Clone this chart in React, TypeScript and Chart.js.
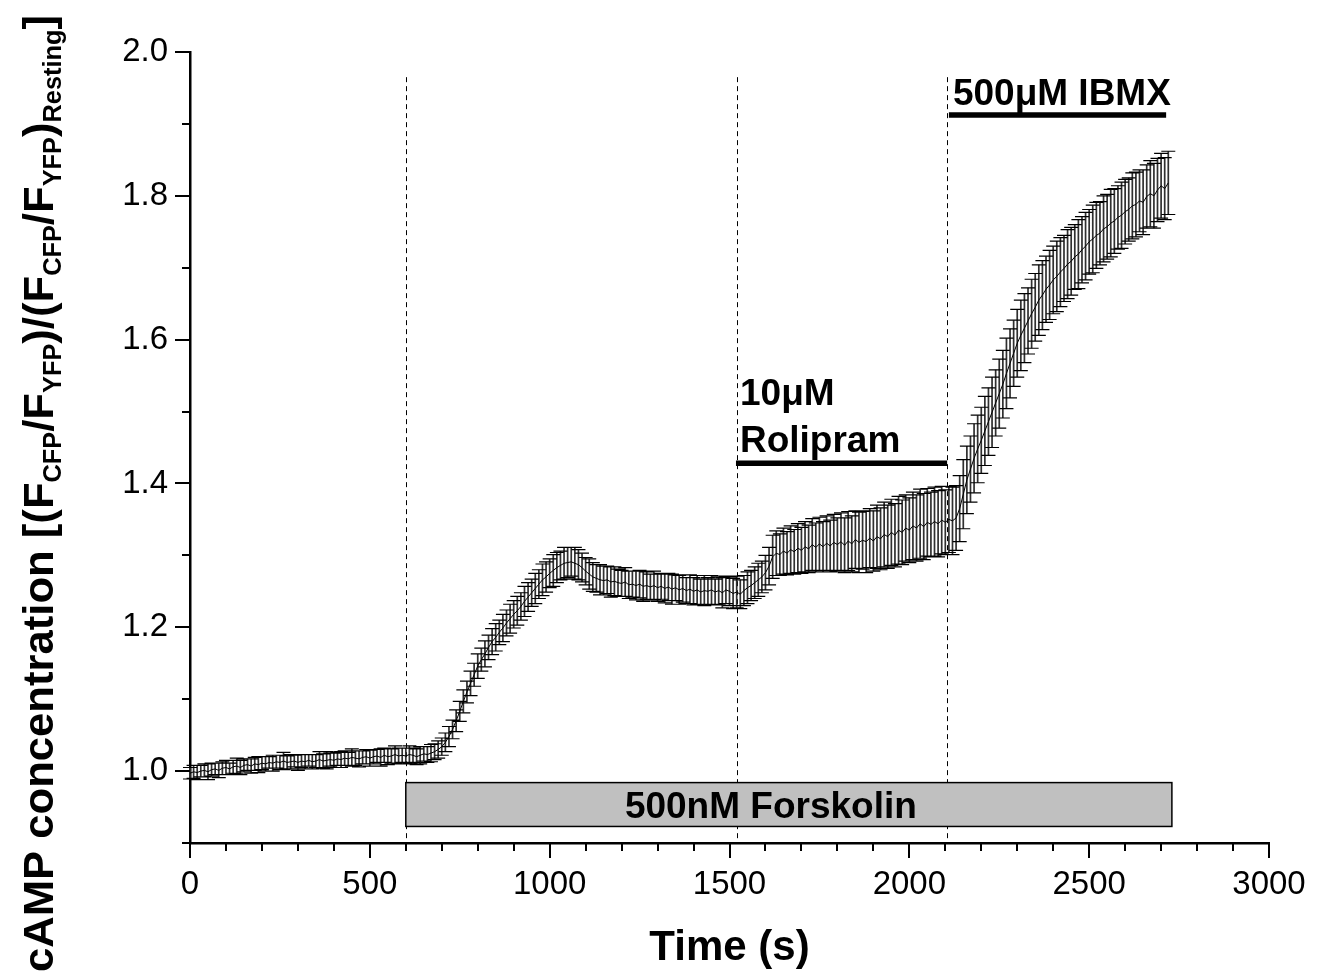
import React, { useEffect, useRef } from "react";
import { Chart, registerables } from "chart.js";

Chart.register(...registerables);

// ---------------- data ----------------
const TIME_STEP_S = 10; // sampling interval of the recording (s), first sample at t = 0

// mean normalised CFP/YFP ratio, one value every 10 s from 0 to 2720 s
const MEAN_RATIO = [
  0.997, 0.999, 0.998, 1.000, 1.001, 0.999, 1.002, 1.003, 1.001, 1.004,
  1.005, 1.003, 1.006, 1.007, 1.005, 1.008, 1.009, 1.007, 1.010, 1.009,
  1.011, 1.010, 1.012, 1.011, 1.013, 1.012, 1.014, 1.012, 1.013, 1.014,
  1.012, 1.014, 1.013, 1.015, 1.013, 1.014, 1.016, 1.014, 1.015, 1.016,
  1.015, 1.017, 1.016, 1.018, 1.017, 1.019, 1.018, 1.017, 1.019, 1.020,
  1.018, 1.020, 1.021, 1.019, 1.022, 1.020, 1.021, 1.023, 1.021, 1.022,
  1.021, 1.023, 1.022, 1.020, 1.022, 1.024, 1.023, 1.025, 1.027, 1.030,
  1.034, 1.040, 1.048, 1.058, 1.070, 1.083, 1.097, 1.110, 1.122, 1.134,
  1.146, 1.155, 1.163, 1.172, 1.180, 1.186, 1.193, 1.199, 1.206, 1.212,
  1.218, 1.223, 1.229, 1.236, 1.242, 1.248, 1.254, 1.260, 1.266, 1.270,
  1.275, 1.279, 1.283, 1.286, 1.289, 1.290, 1.291, 1.289, 1.287, 1.283,
  1.278, 1.274, 1.270, 1.268, 1.266, 1.265, 1.266, 1.263, 1.264, 1.262,
  1.261, 1.263, 1.259, 1.260, 1.258, 1.260, 1.257, 1.258, 1.256, 1.258,
  1.255, 1.257, 1.254, 1.256, 1.253, 1.255, 1.252, 1.254, 1.251, 1.253,
  1.250, 1.252, 1.249, 1.251, 1.250, 1.252, 1.249, 1.251, 1.248, 1.252,
  1.250, 1.247, 1.249, 1.246, 1.251, 1.255, 1.258, 1.262, 1.266, 1.270,
  1.276, 1.285, 1.298, 1.303, 1.301, 1.306, 1.303, 1.308, 1.305, 1.310,
  1.307, 1.312, 1.309, 1.315, 1.311, 1.316, 1.312, 1.317, 1.313, 1.318,
  1.315, 1.319, 1.314, 1.320, 1.316, 1.322, 1.318, 1.321, 1.319, 1.324,
  1.320, 1.326, 1.323, 1.329, 1.326, 1.332, 1.328, 1.335, 1.332, 1.338,
  1.335, 1.341, 1.338, 1.344, 1.340, 1.346, 1.343, 1.347, 1.344, 1.349,
  1.346, 1.350, 1.348, 1.352, 1.365, 1.385, 1.405, 1.420, 1.435, 1.448,
  1.460, 1.473, 1.486, 1.499, 1.512, 1.525, 1.538, 1.553, 1.567, 1.581,
  1.595, 1.606, 1.616, 1.626, 1.636, 1.645, 1.655, 1.662, 1.670, 1.676,
  1.683, 1.688, 1.694, 1.699, 1.705, 1.709, 1.715, 1.719, 1.725, 1.730,
  1.736, 1.740, 1.745, 1.748, 1.754, 1.757, 1.762, 1.765, 1.770, 1.773,
  1.778, 1.781, 1.786, 1.788, 1.793, 1.791, 1.799, 1.803, 1.800, 1.808,
  1.814, 1.810, 1.818,
];

// error (±) for each mean value
const ERR_RATIO = [
  0.008, 0.009, 0.010, 0.008, 0.009, 0.011, 0.009, 0.008, 0.010, 0.009,
  0.010, 0.008, 0.009, 0.011, 0.010, 0.009, 0.008, 0.010, 0.009, 0.011,
  0.009, 0.010, 0.008, 0.011, 0.009, 0.010, 0.012, 0.009, 0.010, 0.008,
  0.011, 0.009, 0.010, 0.008, 0.010, 0.009, 0.011, 0.010, 0.012, 0.009,
  0.010, 0.009, 0.011, 0.010, 0.009, 0.012, 0.010, 0.011, 0.009, 0.010,
  0.011, 0.010, 0.009, 0.012, 0.010, 0.011, 0.010, 0.012, 0.011, 0.010,
  0.011, 0.012, 0.010, 0.011, 0.012, 0.010, 0.011, 0.012, 0.011, 0.012,
  0.012, 0.013, 0.014, 0.013, 0.015, 0.014, 0.016, 0.015, 0.017, 0.016,
  0.017, 0.016, 0.018, 0.017, 0.018, 0.019, 0.017, 0.019, 0.018, 0.020,
  0.019, 0.020, 0.019, 0.021, 0.020, 0.019, 0.021, 0.020, 0.022, 0.021,
  0.020, 0.022, 0.021, 0.020, 0.022, 0.021, 0.020, 0.022, 0.021, 0.020,
  0.019, 0.021, 0.020, 0.019, 0.021, 0.020, 0.019, 0.021, 0.020, 0.019,
  0.018, 0.020, 0.019, 0.018, 0.020, 0.019, 0.021, 0.019, 0.018, 0.020,
  0.019, 0.018, 0.020, 0.019, 0.021, 0.018, 0.020, 0.019, 0.018, 0.020,
  0.019, 0.020, 0.018, 0.021, 0.019, 0.020, 0.018, 0.019, 0.021, 0.019,
  0.020, 0.021, 0.022, 0.020, 0.021, 0.022, 0.021, 0.022, 0.023, 0.022,
  0.024, 0.026, 0.030, 0.031, 0.029, 0.032, 0.030, 0.033, 0.031, 0.034,
  0.032, 0.035, 0.033, 0.036, 0.034, 0.037, 0.035, 0.038, 0.036, 0.039,
  0.037, 0.040, 0.038, 0.041, 0.039, 0.040, 0.042, 0.040, 0.043, 0.041,
  0.042, 0.044, 0.043, 0.045, 0.044, 0.046, 0.044, 0.047, 0.045, 0.046,
  0.045, 0.047, 0.046, 0.048, 0.046, 0.047, 0.045, 0.048, 0.046, 0.047,
  0.045, 0.046, 0.047, 0.045, 0.046, 0.048, 0.047, 0.046, 0.048, 0.047,
  0.046, 0.048, 0.047, 0.049, 0.046, 0.048, 0.047, 0.049, 0.048, 0.046,
  0.047, 0.049, 0.048, 0.046, 0.048, 0.047, 0.049, 0.048, 0.046, 0.048,
  0.047, 0.049, 0.048, 0.046, 0.048, 0.047, 0.045, 0.048, 0.046, 0.047,
  0.045, 0.047, 0.046, 0.044, 0.046, 0.045, 0.047, 0.045, 0.044, 0.046,
  0.045, 0.044, 0.046, 0.045, 0.043, 0.045, 0.044, 0.046, 0.045, 0.044,
  0.045, 0.043, 0.044,
];

// axes
const X_MIN = 0;
const X_MAX = 3000;
const X_MINOR_STEP = 100;
const X_LABEL_STEP = 500;
const Y_MIN = 0.9;
const Y_MAX = 2.0;
const Y_MINOR_STEP = 0.1;
const Y_LABEL_STEP = 0.2;

// drug application times (s) -> dashed markers
const DRUG_ONSETS_S = [600, 1520, 2105];
const DASH_TOP_VALUE = 1.965;

// annotation texts
const X_TITLE = "Time (s)";
const Y_TITLE_SEGMENTS: [string, boolean][] = [
  ["cAMP concentration [(F", false],
  ["CFP", true],
  ["/F", false],
  ["YFP", true],
  [")/(F", false],
  ["CFP", true],
  ["/F", false],
  ["YFP", true],
  [")", false],
  ["Resting", true],
  ["]", false],
];
const FORSKOLIN_LABEL = "500nM Forskolin";
const FORSKOLIN_SPAN = { start: 600, end: 2730, low: 0.923, high: 0.984, labelAt: 1615 };
const ROLIPRAM_LABEL = ["10\u03bcM", "Rolipram"];
const ROLIPRAM_SPAN = { start: 1518, end: 2105, level: 1.428 };
const IBMX_LABEL = "500\u03bcM IBMX";
const IBMX_SPAN = { start: 2110, end: 2714, level: 1.9125 };

// ---------------- styles ----------------
const FAMILY = '"Liberation Sans", Arial, Helvetica, sans-serif';
const W = 1319;
const H = 977;

const annotationPlugin = {
  id: "annotations",
  beforeDatasetsDraw(chart: any) {
    const { ctx, scales } = chart;
    const x = scales.x;
    const y = scales.y;
    ctx.save();
    // dashed onset markers
    ctx.strokeStyle = "#000";
    ctx.lineWidth = 1;
    ctx.setLineDash([5, 4]);
    for (const t of DRUG_ONSETS_S) {
      const px = Math.round(x.getPixelForValue(t)) + 0.5;
      ctx.beginPath();
      ctx.moveTo(px, y.getPixelForValue(DASH_TOP_VALUE));
      ctx.lineTo(px, y.getPixelForValue(Y_MIN));
      ctx.stroke();
    }
    ctx.setLineDash([]);

    // forskolin box
    const bx0 = x.getPixelForValue(FORSKOLIN_SPAN.start);
    const bx1 = x.getPixelForValue(FORSKOLIN_SPAN.end);
    const by0 = y.getPixelForValue(FORSKOLIN_SPAN.high);
    const by1 = y.getPixelForValue(FORSKOLIN_SPAN.low);
    ctx.fillStyle = "#c0c0c0";
    ctx.fillRect(bx0, by0, bx1 - bx0, by1 - by0);
    ctx.strokeStyle = "#000";
    ctx.lineWidth = 1.5;
    ctx.strokeRect(bx0, by0, bx1 - bx0, by1 - by0);
    ctx.fillStyle = "#000";
    ctx.font = `bold 37px ${FAMILY}`;
    ctx.textAlign = "center";
    ctx.textBaseline = "alphabetic";
    ctx.fillText(FORSKOLIN_LABEL, x.getPixelForValue(FORSKOLIN_SPAN.labelAt), (by0 + by1) / 2 + 13);

    // rolipram bar + label
    ctx.lineWidth = 5.5;
    ctx.lineCap = "butt";
    const ry = y.getPixelForValue(ROLIPRAM_SPAN.level);
    const rx0 = x.getPixelForValue(ROLIPRAM_SPAN.start);
    ctx.beginPath();
    ctx.moveTo(rx0, ry);
    ctx.lineTo(x.getPixelForValue(ROLIPRAM_SPAN.end), ry);
    ctx.stroke();
    ctx.textAlign = "left";
    ctx.fillText(ROLIPRAM_LABEL[0], rx0 + 4, ry - 58);
    ctx.fillText(ROLIPRAM_LABEL[1], rx0 + 4, ry - 11);

    // IBMX bar + label
    const iy = y.getPixelForValue(IBMX_SPAN.level);
    const ix0 = x.getPixelForValue(IBMX_SPAN.start);
    ctx.beginPath();
    ctx.moveTo(ix0, iy);
    ctx.lineTo(x.getPixelForValue(IBMX_SPAN.end), iy);
    ctx.stroke();
    ctx.fillText(IBMX_LABEL, ix0 + 4, iy - 10);

    // error bars
    ctx.beginPath();
    const caps: number[][] = [];
    for (let i = 0; i < MEAN_RATIO.length; i++) {
      const t = i * TIME_STEP_S;
      const px = x.getPixelForValue(t);
      const top = y.getPixelForValue(MEAN_RATIO[i] + ERR_RATIO[i]);
      const bot = y.getPixelForValue(MEAN_RATIO[i] - ERR_RATIO[i]);
      ctx.moveTo(px, top);
      ctx.lineTo(px, bot);
      caps.push([px, top, bot]);
    }
    ctx.strokeStyle = "#303030";
    ctx.lineWidth = 1.7;
    ctx.stroke();
    ctx.beginPath();
    for (const [px, top, bot] of caps) {
      ctx.moveTo(px - 7, top);
      ctx.lineTo(px + 7, top);
      ctx.moveTo(px - 7, bot);
      ctx.lineTo(px + 7, bot);
    }
    ctx.strokeStyle = "#000";
    ctx.lineWidth = 1.2;
    ctx.stroke();
    ctx.restore();
  },
};

const tickPlugin = {
  id: "axisTicks",
  afterDraw(chart: any) {
    const { ctx, scales, chartArea } = chart;
    const x = scales.x;
    const y = scales.y;
    ctx.save();
    ctx.strokeStyle = "#000";
    ctx.lineWidth = 2;
    ctx.beginPath();
    for (const tk of x.ticks) {
      const major = Math.round(tk.value) % X_LABEL_STEP === 0;
      const px = Math.round(x.getPixelForValue(tk.value));
      ctx.moveTo(px, chartArea.bottom);
      ctx.lineTo(px, chartArea.bottom + (major ? 15 : 8));
    }
    for (const tk of y.ticks) {
      const major = Math.round(tk.value * 10) % Math.round(Y_LABEL_STEP * 10) === 0;
      const py = Math.round(y.getPixelForValue(tk.value));
      ctx.moveTo(chartArea.left, py);
      ctx.lineTo(chartArea.left - (major ? 15 : 8), py);
    }
    ctx.stroke();

    // y-axis title with subscripts
    const mainFont = `bold 43px ${FAMILY}`;
    const subFont = `bold 25px ${FAMILY}`;
    let total = 0;
    for (const [txt, sub] of Y_TITLE_SEGMENTS) {
      ctx.font = sub ? subFont : mainFont;
      total += ctx.measureText(txt).width;
    }
    const startY = 972;
    const endY = 15;
    const s = (startY - endY) / total;
    ctx.translate(53, startY);
    ctx.rotate(-Math.PI / 2);
    ctx.scale(s, 1);
    ctx.fillStyle = "#000";
    ctx.textAlign = "left";
    ctx.textBaseline = "alphabetic";
    let cx = 0;
    for (const [txt, sub] of Y_TITLE_SEGMENTS) {
      ctx.font = sub ? subFont : mainFont;
      ctx.fillText(txt, cx, sub ? 8 : 0);
      cx += ctx.measureText(txt).width;
    }
    ctx.restore();
  },
};

export default function App() {
  const ref = useRef<HTMLCanvasElement>(null);
  useEffect(() => {
    const canvas = ref.current;
    if (!canvas) return;
    const points = MEAN_RATIO.map((m, i) => ({ x: i * TIME_STEP_S, y: m }));
    const chart = new Chart(canvas, {
      type: "line",
      data: {
        datasets: [
          {
            data: points,
            borderColor: "#000",
            borderWidth: 1,
            pointRadius: 0,
            tension: 0,
            fill: false,
          },
        ],
      },
      options: {
        responsive: false,
        animation: false,
        devicePixelRatio: 1,
        layout: { padding: { left: 0, right: 50, top: 52, bottom: 0 } },
        plugins: {
          legend: { display: false },
          tooltip: { enabled: false },
          title: { display: false },
        },
        scales: {
          x: {
            type: "linear",
            position: "bottom",
            min: X_MIN,
            max: X_MAX,
            afterFit: (s: any) => {
              s.height = H - 843;
              s.paddingLeft = 0;
              s.paddingRight = 0;
            },
            ticks: {
              stepSize: X_MINOR_STEP,
              maxTicksLimit: 1000,
              autoSkip: false,
              maxRotation: 0,
              minRotation: 0,
              padding: 22,
              color: "#000",
              font: { family: FAMILY, size: 33 },
              callback: (v: any) =>
                Math.round(Number(v)) % X_LABEL_STEP === 0 ? String(Math.round(Number(v))) : "",
            },
            grid: { display: false, drawTicks: false },
            border: { display: true, color: "#000", width: 2.5 },
            title: {
              display: true,
              text: X_TITLE,
              color: "#000",
              font: { family: FAMILY, size: 42, weight: "bold" },
              padding: { top: 0, bottom: 3 },
            },
          },
          y: {
            type: "linear",
            min: Y_MIN,
            max: Y_MAX,
            afterFit: (s: any) => {
              s.width = 190;
              s.paddingTop = 0;
              s.paddingBottom = 0;
            },
            ticks: {
              stepSize: Y_MINOR_STEP,
              maxTicksLimit: 1000,
              autoSkip: false,
              padding: 22,
              color: "#000",
              font: { family: FAMILY, size: 33 },
              callback: (v: any) => {
                const k = Math.round(Number(v) * 10);
                return k >= 10 && k % Math.round(Y_LABEL_STEP * 10) === 0 ? (k / 10).toFixed(1) : "";
              },
            },
            grid: { display: false, drawTicks: false },
            border: { display: true, color: "#000", width: 2.5 },
          },
        },
      } as any,
      plugins: [annotationPlugin, tickPlugin],
    });
    return () => chart.destroy();
  }, []);

  return (
    <div style={{ position: "fixed", left: 0, top: 0, width: W, height: H, background: "#fff" }}>
      <canvas ref={ref} width={W} height={H} style={{ display: "block", width: W, height: H }} />
    </div>
  );
}
